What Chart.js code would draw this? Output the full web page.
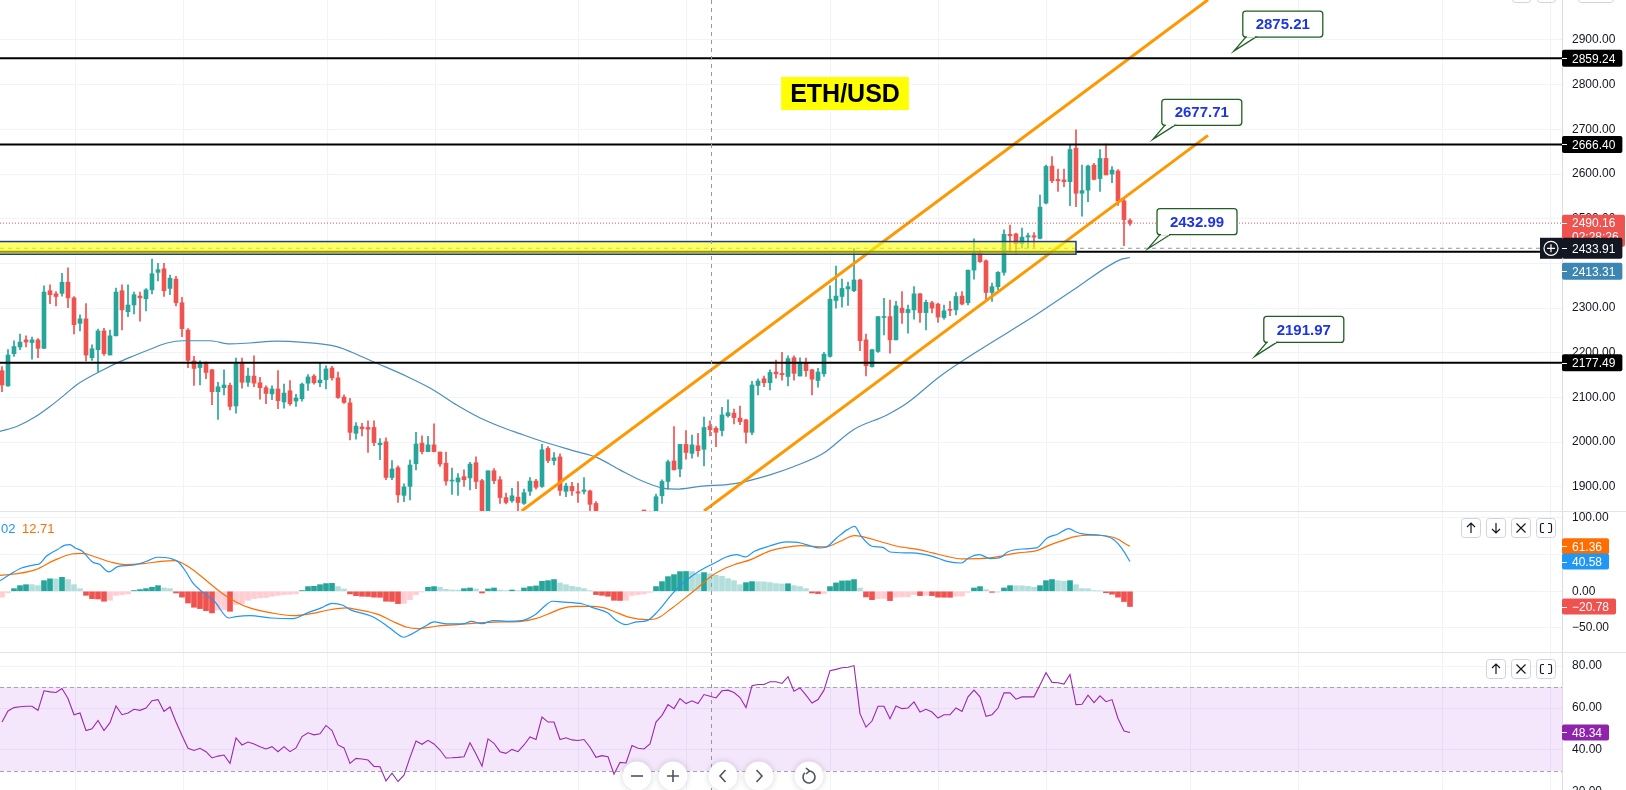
<!DOCTYPE html>
<html>
<head>
<meta charset="utf-8">
<title>ETH/USD</title>
<script src="https://cdn.jsdelivr.net/npm/chart.js@4.4.1/dist/chart.umd.min.js"></script>
<style>
  html, body { margin: 0; padding: 0; background: #fff; overflow: hidden; }
  #wrap { position: relative; width: 1626px; height: 790px; }
  #wrap canvas { position: absolute; left: 0; }
</style>
</head>
<body>
<div id="wrap">
  <canvas id="priceChart" width="1626" height="511" style="top:0"></canvas>
  <canvas id="macdChart" width="1626" height="141" style="top:511px"></canvas>
  <canvas id="rsiChart" width="1626" height="138" style="top:652px"></canvas>
</div>
<script>
// ETH/USD 4h candles (index 0 = first candle on screen)
var candleOpen = [
  2160,2126,2198,2213,2229,2223,2229,2210,2339,2332,
  2333,2358,2323,2266,2276,2189,2207,2249,2195,2238,
  2339,2292,2307,2327,2321,2341,2380,2388,2344,2365,
  2312,2251,2182,2167,2177,2162,2113,2122,2127,2081,
  2175,2134,2148,2133,2122,2108,2119,2090,2115,2092,
  2097,2132,2148,2133,2140,2166,2144,2101,2088,2020,
  2034,2033,2033,1994,2001,1921,1943,1881,1901,1952,
  1998,1979,1994,1978,1953,1913,1911,1923,1920,1954,
  1914,1842,1936,1916,1876,1869,1877,1863,1890,1913,
  1901,1986,1959,1967,1890,1901,1889,1890,1891,1863,
  1838,1825,1815,1790,1805,1800,1830,1826,1824,1840,
  1880,1912,1958,1940,1995,1975,1992,1984,2036,2031,
  2026,2059,2065,2054,2050,2022,2127,2142,2133,2157,
  2154,2147,2189,2148,2178,2162,2138,2153,2192,2317,
  2326,2343,2339,2363,2229,2169,2203,2279,2281,2229,
  2300,2290,2296,2332,2290,2312,2309,2279,2297,2296,
  2327,2312,2385,2424,2406,2335,2348,2380,2465,2466,
  2444,2459,2462,2456,2535,2618,2588,2587,2583,2658,
  2557,2564,2620,2590,2635,2600,2607,2540,2496
];
var candleHigh = [
  2169,2207,2227,2242,2238,2235,2232,2350,2352,2337,
  2378,2390,2326,2285,2310,2218,2253,2255,2251,2345,
  2352,2352,2336,2336,2344,2410,2400,2400,2374,2371,
  2324,2254,2192,2182,2180,2163,2134,2162,2132,2188,
  2188,2166,2193,2145,2126,2126,2160,2130,2138,2107,
  2132,2151,2151,2177,2171,2170,2157,2106,2098,2044,
  2042,2048,2048,2008,2010,1959,1947,1907,1960,2022,
  2014,2013,2041,1978,1978,1942,1930,1938,1955,1967,
  1917,1936,1941,1923,1886,1897,1912,1895,1921,1917,
  1995,1990,1977,1974,1908,1910,1908,1921,1893,1867,
  1845,1836,1820,1810,1812,1834,1838,1833,1846,1884,
  1916,1960,2035,1995,2026,2016,2020,2056,2048,2035,
  2078,2095,2074,2081,2051,2136,2142,2148,2162,2184,
  2201,2193,2193,2189,2188,2163,2165,2201,2350,2394,
  2365,2358,2434,2365,2242,2208,2281,2322,2318,2315,
  2337,2307,2348,2333,2318,2315,2311,2307,2315,2335,
  2337,2385,2455,2430,2408,2356,2382,2475,2486,2468,
  2479,2468,2469,2553,2620,2639,2611,2611,2665,2699,
  2620,2620,2624,2655,2667,2617,2610,2548,2500
];
var candleLow = [
  2113,2125,2192,2207,2213,2186,2189,2209,2310,2305,
  2327,2301,2242,2249,2182,2183,2157,2194,2195,2238,
  2251,2281,2287,2271,2294,2332,2361,2326,2330,2305,
  2236,2167,2127,2128,2142,2084,2051,2106,2072,2065,
  2121,2125,2124,2096,2086,2095,2075,2076,2082,2080,
  2092,2116,2130,2124,2119,2139,2098,2087,2005,2007,
  2014,1977,1992,1961,1916,1916,1865,1867,1871,1938,
  1974,1979,1978,1946,1904,1883,1881,1901,1893,1896,
  1835,1838,1907,1863,1862,1865,1845,1861,1881,1895,
  1899,1954,1949,1881,1878,1881,1865,1884,1845,1830,
  1810,1808,1780,1782,1792,1796,1818,1815,1820,1830,
  1863,1895,1938,1923,1962,1964,1968,1947,2014,1990,
  2014,2056,2041,2039,1998,2017,2106,2124,2117,2143,
  2139,2126,2139,2148,2147,2106,2123,2147,2190,2300,
  2302,2306,2337,2205,2148,2168,2201,2240,2199,2229,
  2266,2244,2275,2268,2251,2289,2268,2275,2283,2285,
  2307,2307,2365,2402,2315,2315,2341,2374,2426,2423,
  2434,2434,2436,2455,2533,2581,2561,2572,2529,2527,
  2506,2538,2587,2561,2598,2581,2530,2440,2485
];
var candleClose = [
  2128,2195,2214,2224,2224,2229,2210,2336,2330,2326,
  2358,2323,2263,2276,2195,2209,2249,2198,2238,2336,
  2296,2307,2330,2323,2341,2377,2386,2339,2367,2312,
  2254,2183,2165,2178,2156,2113,2124,2128,2080,2175,
  2134,2148,2132,2122,2109,2119,2093,2110,2086,2099,
  2130,2146,2133,2139,2164,2144,2100,2089,2022,2036,
  2030,2029,1999,1998,1921,1940,1882,1900,1949,1996,
  1979,1994,1979,1951,1913,1915,1920,1916,1951,1912,
  1842,1936,1914,1876,1865,1880,1865,1887,1913,1899,
  1983,1959,1965,1892,1902,1891,1886,1893,1861,1838,
  1825,1815,1790,1805,1800,1830,1826,1824,1840,1878,
  1912,1956,1938,1995,1977,1994,1981,2033,2028,2022,
  2061,2066,2055,2046,2022,2128,2137,2133,2156,2153,
  2151,2187,2154,2179,2160,2141,2157,2197,2320,2327,
  2344,2348,2363,2227,2171,2207,2281,2281,2229,2305,
  2290,2297,2332,2290,2313,2300,2280,2294,2295,2326,
  2309,2385,2424,2404,2335,2348,2380,2465,2462,2444,
  2459,2462,2459,2526,2617,2585,2585,2583,2655,2557,
  2563,2618,2588,2635,2598,2609,2540,2498,2490.16
];

// moving average, read at points along the line: [candle index, price]
var maLine = [
  [-0.33,2024],[2.45,2035],[5.2,2054],[8,2080],[10.8,2110],[12.4,2128],[16.3,2158],[19.1,2177],
  [21.9,2193],[24.7,2208],[27.5,2222],[30.2,2227],[34.7,2227],[38,2220],[41.3,2222],[45.8,2226],
  [49.7,2224],[55.8,2214],[59.7,2193],[61.9,2180],[67.5,2147],[71.9,2117],[75.8,2083],[79.7,2054],
  [83,2035],[86.3,2019],[90.2,2001],[95.8,1979],[99.1,1966],[103,1938],[106.9,1912],[110.2,1897],
  [112.4,1895],[116.3,1901],[122.4,1908],[128,1927],[131.9,1945],[136.9,1975],[141.9,2028],
  [147.5,2061],[150.8,2087],[156.3,2147],[163,2207],[171.9,2281],[178.6,2341],[186.3,2408],[188,2413.31]
];

var levelPrices = [2859.24, 2666.40, 2177.49];
var supportPrice = 2426;
var lastPrice = 2490.16;
var countdown = '02:28:26';
var crossPrice = 2433.91;
var crossIndex = 118.1;
var maLast = 2413.31;
var zoneTop = 2449, zoneBottom = 2420.6, zoneEnd = 179;
var channelUpper = [[86.6, 1846], [201, 2990]];
var channelLower = [[117, 1846], [201, 2686.6]];
var calloutText = ['2875.21', '2677.71', '2432.99', '2191.97'];
var calloutIndex = [205.3, 191.8, 191, 208.8];
var gridIndex = [12.17, 30.17, 54.17, 72.17, 96, 114, 138, 156, 174, 198, 216, 240, 258];
var hiddenPriceTicks = [2400];

// MACD pane
var macdHist = [
  -8,-2,3.6,7.7,9,9,7.7,14.5,17,17,
  19,16,9,3.6,-5.5,-10,-10.5,-13.6,-12.3,-5.5,
  -4.5,-3.6,1,2.3,3.6,5.5,7.7,4.5,3.6,-2.3,
  -8,-16,-21.8,-23.6,-26.4,-29.5,-25.5,-25,-27.3,-18,
  -16.8,-12.3,-10,-9,-8.5,-6.8,-5.5,-4.5,-4.2,-3.6,
  1,6.4,6.8,9,10.5,10.8,6.4,3.2,-3.6,-5.9,
  -6.8,-7,-8,-8.2,-13.6,-13.8,-16.8,-16.5,-11.4,-4.5,
  -1,5.5,6.4,5.5,2.7,1.8,1.6,3.6,4.5,3.2,
  -2.3,3.2,4.5,1.8,1,1.8,1,4.5,6.4,7.3,
  13.6,14.5,16,11.4,9,6.8,5.5,3.6,1,-4.5,
  -5.5,-6.8,-12.3,-12.5,-12.3,-5.5,-4.5,-3.6,-1.4,6.4,
  13.2,20,22.7,26.8,27,26.8,23.6,25.5,24,21.8,
  20.5,17.3,14.5,9,11.8,13.2,13,12.8,11.8,10.5,
  10,10.3,7.7,6.4,3.6,-2.3,-3.2,-3,6.4,11.4,
  14.1,14.3,16,4.5,-7.7,-11.4,-10,-9.8,-12.7,-8,
  -7.7,-7.5,-4.5,-5.9,-5.5,-5.9,-8,-8.1,-8.2,-6.8,
  -6.6,-1.4,4.5,6.4,2.3,-1.4,-1.2,4.5,7.7,7.6,
  7.5,6.8,5.5,7.7,14.5,16,14.5,13.6,14.5,9,
  3.6,3.5,1,0.5,-2,-4,-8,-14,-20.78
];
var macdLine = [
  [-0.33,14.5],[1.45,23.6],[3.24,31.8],[5.62,36.4],[6.2,37.3],[7.4,47.7],[9.2,56.8],[10.4,62.7],
  [11.3,63.6],[12.2,59.1],[13.4,54.5],[15.1,40],[16.3,36.4],[17.8,26.4],[19.3,33.6],[21.7,35.5],
  [24.1,40.9],[25.9,46.4],[28.2,44.5],[29.4,40],[30.6,27.3],[31.8,11.4],[33.6,-2.3],[35.4,-13.6],
  [37.8,-36.4],[39,-34.5],[41.3,-33.2],[44.9,-36.4],[48.5,-37.3],[50.9,-29.5],[53.2,-22.7],
  [55,-16.4],[56.8,-19.1],[58,-25],[61.6,-34.1],[63.9,-45.5],[65.7,-56.8],[66.9,-62.7],[68.1,-59.1],
  [70.5,-47.7],[72,-41.8],[74.1,-44.5],[77,-44.1],[78.2,-40.9],[80,-44.1],[81.8,-40],[84.2,-40.9],
  [86.6,-40],[88.9,-31.8],[90.1,-22.7],[91.75,-13.6],[93.2,-14.5],[96.8,-17.3],[98.6,-22.7],
  [101,-29.5],[102.2,-38.6],[104,-45.5],[105.7,-41.8],[107.5,-40],[109.3,-27.3],[111.7,-3.6],
  [113.5,11.4],[115.3,22.7],[117.1,31.8],[118.8,38.6],[120.6,46.4],[122.4,50],[123.9,46.8],
  [125.4,54.5],[127.8,61.4],[130.7,67.3],[133.1,65.9],[134.9,61.4],[136.1,59.1],[137.3,60],
  [139.1,72.7],[140.9,84.1],[142.1,88.6],[143.2,75],[145,61.4],[146.8,60],[148,53.6],[151.6,52.3],
  [155.1,47.7],[157.5,40.9],[159.9,38.6],[161.1,45.5],[162.9,50],[164.7,44.5],[166.5,46.4],
  [167.6,53.6],[170,57.7],[172.4,59.1],[174.2,72.7],[176,78.2],[177.8,85.5],[179,80.9],[180.1,78.2],
  [183,76.4],[185,72],[186,65],[187,54],[188,40.58]
];
var signalLine = [
  [-0.33,21.8],[2.6,24.1],[5.6,29.5],[8.6,41.8],[11.6,50.9],[13.4,51.8],[15.7,46.4],[18.1,40],
  [20.5,36.4],[23.5,37.7],[26.5,40.9],[28.8,41.8],[30,38.6],[31.8,29.5],[34.2,13.6],[36.6,-2.3],
  [39,-14.5],[41.3,-22.7],[44.9,-29.5],[48.5,-33.2],[51.5,-30.5],[54.4,-25.5],[57.4,-22.7],
  [59.2,-25],[62.8,-31.8],[65.1,-40.9],[67.5,-49.1],[69.3,-50.9],[72.3,-47.7],[75.9,-45.5],
  [79.4,-43.2],[83,-41.8],[86.6,-40.9],[88.9,-37.3],[91.5,-29.5],[93.2,-23.6],[95.6,-20.5],
  [98.6,-20.5],[100.4,-22.7],[102.2,-28.2],[104.6,-35.5],[107.5,-38.6],[109.3,-36.4],[111.7,-22.7],
  [113.5,-11.4],[115.9,4.5],[118.2,20.5],[120.6,31.8],[122.4,37.3],[124.8,43.2],[127.8,54.5],
  [130.1,59.1],[133.1,62.3],[137.3,60.5],[139.7,68.2],[142.1,75.9],[143.2,75],[146.2,68.2],
  [149.2,61.4],[152.8,56.8],[155.1,52.3],[157.5,47.7],[159.9,44.1],[162.3,44.5],[164.7,45.5],
  [167.1,49.1],[169.4,52.3],[172.4,55.5],[174.8,63.6],[177.2,70.5],[179,75],[181.3,76.4],
  [183,76.4],[185,74],[186,71],[187,66],[188,61.36]
];
var macdLegend = ['02', '12.71'];

// RSI pane
var rsiValues = [
  53.3,58.6,60.2,60.6,60.8,60.8,58.9,68.2,67.7,67.4,
  69.3,64.5,56.8,57.6,49.3,50.1,54.1,49.3,53,61,
  56.8,57.6,59.4,58.9,60,63.5,64,58.4,60.5,53.3,
  46.9,40.8,39.8,40.8,39.2,36.2,37.1,37.6,33.6,45.8,
  42.4,43.8,42.9,41.6,40.5,41.6,39.2,41.6,39.2,41,
  46.4,48.2,47.2,47.7,51.7,49.3,42.4,41,33.6,36,
  35.7,35.2,32.2,32,25.3,29,25,28,36.5,44.3,
  42.7,44.6,42.9,40,36.2,36.3,36.5,36.8,43.4,38.1,
  32.3,45.3,43.2,39.2,38.4,40.3,39.2,42.4,46.2,45,
  55.7,53.3,53.3,45,45.8,44.8,44.5,45,41.3,36.5,
  37.3,36.8,28.5,34.1,33.8,42.1,40.8,40.5,42.9,53.3,
  56.5,61.6,59.7,64.5,62.1,63.4,62.1,66.4,65.6,64.8,
  68.2,68.5,67.4,65,60.2,70.6,71.2,71.2,72.5,72.5,
  71.7,74.9,68,69.6,66.1,62.4,64,68.5,77.8,78.4,
  79.2,79.4,80.2,57.3,50.9,53.8,60.8,60.8,54.9,61,
  59.7,60,62.9,58.1,59.4,58.1,55.2,56.8,56.8,60,
  58.4,65.3,68.5,65.3,56,56.8,60,67.2,67.2,64.2,
  65.3,65.3,65.3,70.9,76.8,72.2,72,71.4,76,61.6,
  61.8,66.1,62.6,65.8,63,64,55,49,48.34
];
var rsiBand = [30, 70];

var FONT = "'Liberation Sans', Arial, sans-serif";
var X_MIN = -1 / 3, X_MAX = X_MIN + 1562 / 6;
var GREEN = '#26a69a', RED = '#ef5350';

function fmt(v) { return v.toFixed(2).replace('-', '\u2212'); }
function pts(list) { return list.map(function (p) { return { x: p[0], y: p[1] }; }); }
function hline(v, color, width, dash) {
  return { type: 'line', data: [{ x: X_MIN, y: v }, { x: X_MAX, y: v }], borderColor: color,
    borderWidth: width, borderDash: dash || [], pointRadius: 0, order: 0 };
}

function yAxis(min, max, step, hidden) {
  hidden = hidden || [];
  return {
    position: 'right', min: min, max: max,
    ticks: { stepSize: step, includeBounds: false, padding: 10, color: '#131722',
      font: { family: FONT, size: 12 },
      callback: function (v) { return hidden.indexOf(v) >= 0 ? '' : fmt(v); } },
    grid: { color: '#f0f3fa', drawTicks: false },
    border: { color: '#d9dbe0' },
    afterFit: function (s) { s.width = 64; s.paddingTop = 0; s.paddingBottom = 0; }
  };
}
function baseOptions(min, max, step, hidden) {
  return {
    responsive: false, animation: false, events: [],
    layout: { padding: 0 },
    plugins: { legend: { display: false }, tooltip: { enabled: false } },
    scales: { x: { type: 'linear', min: X_MIN, max: X_MAX, display: false, offset: false }, y: yAxis(min, max, step, hidden) }
  };
}

function roundRect(ctx, x, y, w, h, r) {
  ctx.beginPath();
  ctx.moveTo(x + r, y); ctx.lineTo(x + w - r, y); ctx.quadraticCurveTo(x + w, y, x + w, y + r);
  ctx.lineTo(x + w, y + h - r); ctx.quadraticCurveTo(x + w, y + h, x + w - r, y + h);
  ctx.lineTo(x + r, y + h); ctx.quadraticCurveTo(x, y + h, x, y + h - r);
  ctx.lineTo(x, y + r); ctx.quadraticCurveTo(x, y, x + r, y); ctx.closePath();
}

function drawVGrid(chart) {
  var ctx = chart.ctx, a = chart.chartArea, xs = chart.scales.x;
  ctx.save(); ctx.strokeStyle = '#f0f3fa'; ctx.lineWidth = 1;
  gridIndex.forEach(function (i) {
    var x = Math.round(xs.getPixelForValue(i)) + 0.5;
    ctx.beginPath(); ctx.moveTo(x, a.top); ctx.lineTo(x, a.bottom); ctx.stroke();
  });
  ctx.restore();
}
function drawCrossV(chart) {
  var ctx = chart.ctx, x = Math.round(chart.scales.x.getPixelForValue(crossIndex)) + 0.5;
  ctx.save(); ctx.strokeStyle = '#9598a1'; ctx.lineWidth = 1; ctx.setLineDash([4, 4]);
  ctx.beginPath(); ctx.moveTo(x, 0); ctx.lineTo(x, chart.height); ctx.stroke(); ctx.restore();
}
function drawTopBorder(chart) {
  var ctx = chart.ctx;
  ctx.save(); ctx.strokeStyle = '#e0e3eb'; ctx.lineWidth = 1;
  ctx.beginPath(); ctx.moveTo(0, 0.5); ctx.lineTo(chart.width, 0.5); ctx.stroke(); ctx.restore();
}
function axisLabel(ctx, x0, yc, text, bg, h) {
  ctx.save();
  ctx.font = '12px ' + FONT;
  var w = ctx.measureText(text).width + 17;
  ctx.fillStyle = bg; roundRect(ctx, x0, yc - h / 2, w, h, 2); ctx.fill();
  ctx.strokeStyle = '#fff'; ctx.lineWidth = 1;
  ctx.beginPath(); ctx.moveTo(x0, Math.round(yc) + 0.5); ctx.lineTo(x0 + 5, Math.round(yc) + 0.5); ctx.stroke();
  ctx.fillStyle = '#fff'; ctx.textBaseline = 'middle'; ctx.textAlign = 'left';
  ctx.fillText(text, x0 + 10, yc + 1);
  ctx.restore();
}
function iconButton(ctx, cx, cy, icon) {
  ctx.save();
  ctx.fillStyle = '#fff'; ctx.strokeStyle = '#d1d4dc'; ctx.lineWidth = 1;
  roundRect(ctx, cx - 10 + 0.5, cy - 10 + 0.5, 19, 19, 3); ctx.fill(); ctx.stroke();
  ctx.strokeStyle = '#131722'; ctx.lineWidth = 1.2; ctx.beginPath();
  if (icon === 'up' || icon === 'down') {
    var s = icon === 'up' ? -1 : 1;
    ctx.moveTo(cx, cy - 5 * s); ctx.lineTo(cx, cy + 5 * s);
    ctx.moveTo(cx - 4, cy + 1 * s); ctx.lineTo(cx, cy + 5 * s); ctx.lineTo(cx + 4, cy + 1 * s);
  } else if (icon === 'x') {
    ctx.moveTo(cx - 4.5, cy - 4.5); ctx.lineTo(cx + 4.5, cy + 4.5);
    ctx.moveTo(cx + 4.5, cy - 4.5); ctx.lineTo(cx - 4.5, cy + 4.5);
  } else {
    ctx.moveTo(cx - 2, cy - 4.5); ctx.lineTo(cx - 4, cy - 4.5); ctx.quadraticCurveTo(cx - 5.5, cy - 4.5, cx - 5.5, cy - 3);
    ctx.lineTo(cx - 5.5, cy + 3); ctx.quadraticCurveTo(cx - 5.5, cy + 4.5, cx - 4, cy + 4.5); ctx.lineTo(cx - 2, cy + 4.5);
    ctx.moveTo(cx + 2, cy - 4.5); ctx.lineTo(cx + 4, cy - 4.5); ctx.quadraticCurveTo(cx + 5.5, cy - 4.5, cx + 5.5, cy - 3);
    ctx.lineTo(cx + 5.5, cy + 3); ctx.quadraticCurveTo(cx + 5.5, cy + 4.5, cx + 4, cy + 4.5); ctx.lineTo(cx + 2, cy + 4.5);
  }
  ctx.stroke(); ctx.restore();
}

// ---------- price pane ----------
var candleColor = candleOpen.map(function (o, i) { return candleClose[i] >= o ? GREEN : RED; });
var bodyData = candleOpen.map(function (o, i) { return { x: i, y: [o, candleClose[i]] }; });
var wickData = candleOpen.map(function (o, i) { return { x: i, y: [candleLow[i], candleHigh[i]] }; });

var pricePlugin = {
  id: 'priceDecor',
  beforeDatasetsDraw: function (chart) { drawVGrid(chart); },
  afterDatasetsDraw: function (chart) {
    var ctx = chart.ctx, xs = chart.scales.x, ys = chart.scales.y, a = chart.chartArea;
    // highlighted zone
    var zx1 = xs.getPixelForValue(zoneEnd), zy0 = ys.getPixelForValue(zoneTop), zy1 = ys.getPixelForValue(zoneBottom);
    ctx.save();
    ctx.fillStyle = 'rgba(255,255,0,0.6)';
    ctx.fillRect(a.left, zy0, zx1 - a.left, zy1 - zy0);
    ctx.strokeStyle = '#1e3c8c'; ctx.lineWidth = 1.5;
    ctx.strokeRect(a.left - 2, zy0, zx1 - a.left + 2, zy1 - zy0);
    ctx.restore();
    drawCrossV(chart);

    // title tag
    ctx.save();
    ctx.font = 'bold 25px ' + FONT;
    var tw = ctx.measureText('ETH/USD').width;
    ctx.fillStyle = '#ffff00'; ctx.fillRect(845 - tw / 2 - 9, 77, tw + 18, 33);
    ctx.fillStyle = '#000'; ctx.textAlign = 'center'; ctx.textBaseline = 'middle';
    ctx.fillText('ETH/USD', 845, 95);
    ctx.restore();

    // callouts
    calloutText.forEach(function (t, k) {
      var ax = xs.getPixelForValue(calloutIndex[k]), ay = ys.getPixelForValue(parseFloat(t));
      var L = ax + 9, B = ay - 14, W = 80, H = 26, T = B - H;
      ctx.save();
      ctx.strokeStyle = '#1f5f23'; ctx.lineWidth = 1.3; ctx.fillStyle = '#fff';
      roundRect(ctx, L, T, W, H, 3); ctx.fill(); ctx.stroke();
      ctx.beginPath(); ctx.moveTo(ax, ay); ctx.lineTo(L + 3, B); ctx.lineTo(L + 13, B); ctx.closePath();
      ctx.fill(); ctx.stroke();
      ctx.fillStyle = '#fff'; ctx.fillRect(L + 4, B - 2, 8, 2.6);
      ctx.fillStyle = '#1d36e0'; ctx.font = 'bold 15px ' + FONT; ctx.textAlign = 'center'; ctx.textBaseline = 'middle';
      ctx.fillText(t, L + W / 2, T + H / 2 + 1);
      ctx.restore();
    });
  },
  afterDraw: function (chart) {
    var ctx = chart.ctx, ys = chart.scales.y, x0 = chart.chartArea.right;
    levelPrices.forEach(function (v) { axisLabel(ctx, x0, ys.getPixelForValue(v), fmt(v), '#000', 17); });
    // last price with countdown
    var ly = ys.getPixelForValue(lastPrice);
    ctx.save();
    ctx.fillStyle = RED; roundRect(ctx, x0, ly - 8.5, 63, 32, 2); ctx.fill();
    ctx.fillStyle = '#fff'; ctx.font = '12px ' + FONT; ctx.textBaseline = 'middle';
    ctx.fillText(fmt(lastPrice), x0 + 10, ly + 1);
    ctx.fillText(countdown, x0 + 10, ly + 15);
    ctx.strokeStyle = '#fff'; ctx.beginPath(); ctx.moveTo(x0, Math.round(ly) + 0.5); ctx.lineTo(x0 + 5, Math.round(ly) + 0.5); ctx.stroke();
    ctx.restore();
    // crosshair price + add button
    var cy = ys.getPixelForValue(crossPrice);
    axisLabel(ctx, x0, cy, fmt(crossPrice), '#131722', 21);
    ctx.save();
    ctx.fillStyle = '#131722'; ctx.fillRect(x0 - 22, cy - 10.5, 22, 21);
    ctx.strokeStyle = '#fff'; ctx.lineWidth = 1.2;
    ctx.beginPath(); ctx.arc(x0 - 11, cy, 7, 0, Math.PI * 2); ctx.stroke();
    ctx.beginPath(); ctx.moveTo(x0 - 15, cy); ctx.lineTo(x0 - 7, cy); ctx.moveTo(x0 - 11, cy - 4); ctx.lineTo(x0 - 11, cy + 4); ctx.stroke();
    ctx.restore();
    // moving average value, pushed below the crosshair label
    var my = Math.max(ys.getPixelForValue(maLast), cy + 10.5 + 4 + 8.5);
    axisLabel(ctx, x0, my, fmt(maLast), '#3d86b3', 17);
    // top toolbar edges
    ctx.save(); ctx.strokeStyle = '#d1d4dc'; ctx.fillStyle = '#fff';
    [[1512, 18], [1537, 18], [1578, 35]].forEach(function (b) {
      roundRect(ctx, b[0] + 0.5, -18, b[1], 20.5, 3); ctx.fill(); ctx.stroke();
    });
    ctx.restore();
  }
};

new Chart(document.getElementById('priceChart'), {
  type: 'bar',
  data: {
    datasets: [
      { type: 'bar', data: bodyData, backgroundColor: candleColor, barThickness: 4, minBarLength: 1, grouped: false, order: 2 },
      { type: 'bar', data: wickData, backgroundColor: candleColor, barThickness: 1, grouped: false, order: 3 },
      { type: 'line', data: pts(maLine), borderColor: '#4a8fbd', borderWidth: 1.2, pointRadius: 0,
        cubicInterpolationMode: 'monotone', order: 1 },
      hline(levelPrices[0], '#000', 2),
      hline(levelPrices[1], '#000', 2),
      hline(levelPrices[2], '#000', 2),
      hline(supportPrice, '#000', 2),
      hline(lastPrice, RED, 1, [1, 2]),
      hline(crossPrice, '#9598a1', 1, [4, 4]),
      { type: 'line', data: pts(channelUpper), borderColor: '#ff9800', borderWidth: 3, pointRadius: 0, order: 0 },
      { type: 'line', data: pts(channelLower), borderColor: '#ff9800', borderWidth: 3, pointRadius: 0, order: 0 }
    ]
  },
  options: baseOptions(1846, 2989.5, 100, hiddenPriceTicks),
  plugins: [pricePlugin]
});

// ---------- MACD pane ----------
var histColor = macdHist.map(function (h, i) {
  var p = i > 0 ? macdHist[i - 1] : h;
  if (h >= 0) return h > p ? GREEN : '#b2dfdb';
  return h < p ? RED : '#ffcdd2';
});

var macdPlugin = {
  id: 'macdDecor',
  beforeDatasetsDraw: function (chart) { drawVGrid(chart); },
  afterDatasetsDraw: function (chart) { drawCrossV(chart); },
  afterDraw: function (chart) {
    var ctx = chart.ctx, ys = chart.scales.y, x0 = chart.chartArea.right;
    drawTopBorder(chart);
    ctx.save(); ctx.font = '13px ' + FONT; ctx.textBaseline = 'middle';
    ctx.fillStyle = '#2196f3'; ctx.fillText(macdLegend[0], 1, 18);
    ctx.fillStyle = '#ff6d00'; ctx.fillText(macdLegend[1], 22, 18);
    ctx.restore();
    var sig = signalLine[signalLine.length - 1][1], mac = macdLine[macdLine.length - 1][1], hist = macdHist[macdHist.length - 1];
    axisLabel(ctx, x0, ys.getPixelForValue(sig), fmt(sig), '#ff6d00', 16);
    axisLabel(ctx, x0, ys.getPixelForValue(mac), fmt(mac), '#2196f3', 16);
    axisLabel(ctx, x0, ys.getPixelForValue(hist), fmt(hist), RED, 16);
    iconButton(ctx, 1471, 17, 'up');
    iconButton(ctx, 1496, 17, 'down');
    iconButton(ctx, 1521, 17, 'x');
    iconButton(ctx, 1546, 17, 'max');
  }
};

new Chart(document.getElementById('macdChart'), {
  type: 'bar',
  data: {
    datasets: [
      { type: 'line', data: pts(macdLine), borderColor: '#2196f3', borderWidth: 1.2, pointRadius: 0, cubicInterpolationMode: 'monotone', order: 0 },
      { type: 'line', data: pts(signalLine), borderColor: '#ff6d00', borderWidth: 1.2, pointRadius: 0, cubicInterpolationMode: 'monotone', order: 1 },
      { type: 'bar', data: macdHist.map(function (v, i) { return { x: i, y: v }; }), backgroundColor: histColor,
        barThickness: 5, grouped: false, order: 2 }
    ]
  },
  options: baseOptions(-82.8, 109.5, 50),
  plugins: [macdPlugin]
});

// ---------- RSI pane ----------
var rsiPlugin = {
  id: 'rsiDecor',
  beforeDatasetsDraw: function (chart) {
    var ctx = chart.ctx, a = chart.chartArea, ys = chart.scales.y;
    drawVGrid(chart);
    var yHi = ys.getPixelForValue(rsiBand[1]), yLo = ys.getPixelForValue(rsiBand[0]);
    ctx.save();
    ctx.fillStyle = 'rgba(155,38,230,0.11)';
    ctx.fillRect(a.left, yHi, a.right - a.left, yLo - yHi);
    ctx.strokeStyle = '#aaa2b2'; ctx.lineWidth = 1; ctx.setLineDash([4, 3]);
    [yHi, yLo].forEach(function (y) {
      ctx.beginPath(); ctx.moveTo(a.left, Math.round(y) + 0.5); ctx.lineTo(a.right, Math.round(y) + 0.5); ctx.stroke();
    });
    ctx.restore();
  },
  afterDatasetsDraw: function (chart) { drawCrossV(chart); },
  afterDraw: function (chart) {
    var ctx = chart.ctx, ys = chart.scales.y, x0 = chart.chartArea.right;
    drawTopBorder(chart);
    ctx.save(); ctx.fillStyle = '#131722'; ctx.font = '12px ' + FONT; ctx.textBaseline = 'middle';
    ctx.fillText(fmt(20), x0 + 10, ys.getPixelForValue(20)); ctx.restore();
    var last = rsiValues[rsiValues.length - 1];
    axisLabel(ctx, x0, ys.getPixelForValue(last), fmt(last), '#8e24aa', 16);
    iconButton(ctx, 1496, 17, 'up');
    iconButton(ctx, 1521, 17, 'x');
    iconButton(ctx, 1546, 17, 'max');
    // navigation buttons
    var navX = [637, 673, 723, 759, 809], cy = 124;
    ctx.save();
    navX.forEach(function (cx, k) {
      ctx.save();
      ctx.shadowColor = 'rgba(0,0,0,0.18)'; ctx.shadowBlur = 6;
      ctx.fillStyle = '#fff'; ctx.beginPath(); ctx.arc(cx, cy, 14.5, 0, Math.PI * 2); ctx.fill();
      ctx.restore();
      ctx.strokeStyle = '#50535e'; ctx.lineWidth = 1.6; ctx.beginPath();
      if (k === 0) { ctx.moveTo(cx - 6, cy); ctx.lineTo(cx + 6, cy); }
      else if (k === 1) { ctx.moveTo(cx - 6, cy); ctx.lineTo(cx + 6, cy); ctx.moveTo(cx, cy - 6); ctx.lineTo(cx, cy + 6); }
      else if (k === 2) { ctx.moveTo(cx + 2.5, cy - 6); ctx.lineTo(cx - 3, cy); ctx.lineTo(cx + 2.5, cy + 6); }
      else if (k === 3) { ctx.moveTo(cx - 2.5, cy - 6); ctx.lineTo(cx + 3, cy); ctx.lineTo(cx - 2.5, cy + 6); }
      else {
        ctx.arc(cx, cy + 1, 6, -Math.PI * 0.55, Math.PI * 1.25);
        ctx.moveTo(cx - 3, cy - 8); ctx.lineTo(cx + 0.5, cy - 5); ctx.lineTo(cx - 3, cy - 2);
      }
      ctx.stroke();
    });
    ctx.restore();
  }
};

new Chart(document.getElementById('rsiChart'), {
  type: 'line',
  data: {
    datasets: [
      { data: rsiValues.map(function (v, i) { return { x: i, y: v }; }), borderColor: '#9c27b0', borderWidth: 1.1, pointRadius: 0 }
    ]
  },
  options: baseOptions(20.95, 86.67, 20),
  plugins: [rsiPlugin]
});
</script>
</body>
</html>
